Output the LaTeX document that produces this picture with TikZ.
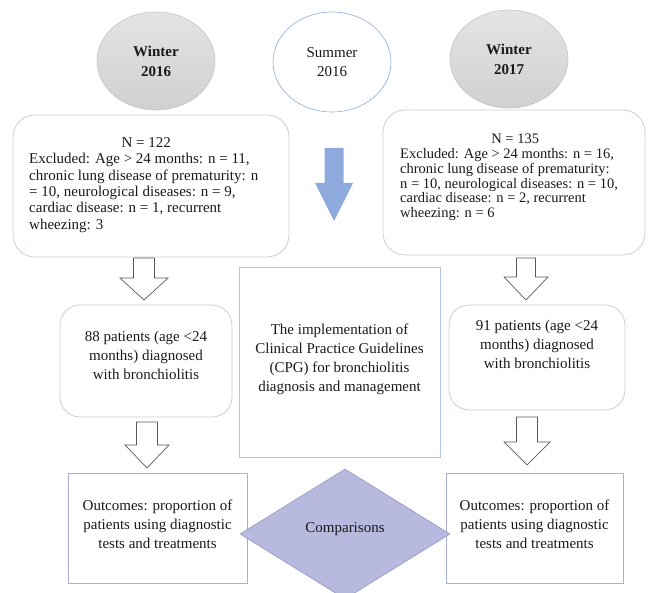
\documentclass[tikz,border=0pt]{standalone}
\usepackage{fontspec}
\setmainfont{Liberation Serif}
\usetikzlibrary{shapes.geometric,calc}
\definecolor{rbord}{HTML}{D6CBC5}
\definecolor{bbord}{HTML}{B4C6E7}
\definecolor{obord}{HTML}{A9AEDB}
\definecolor{grayfillA}{HTML}{E4E4E4}
\definecolor{grayfillB}{HTML}{D0D0D0}
\definecolor{grayline}{HTML}{C4C4C4}
\definecolor{sumline}{HTML}{8EAADB}
\definecolor{bluearrow}{HTML}{8FAADC}
\definecolor{diafill}{HTML}{B8B9DE}
\definecolor{diabord}{HTML}{9A9BC8}
\definecolor{arrline}{HTML}{5A5A5A}
\definecolor{txt}{HTML}{1A1A1A}
\newcommand\blkarrow[7][]{%
  \draw[#1] (#2-#6,#3) -- (#2+#6,#3) -- (#2+#6,#4) -- (#2+#7,#4) -- (#2,#5)
    -- (#2-#7,#4) -- (#2-#6,#4) -- cycle;}
\begin{document}
\begin{tikzpicture}[x=1pt,y=-1pt,
  every node/.style={text=txt},
  season/.style={ellipse, draw=grayline, line width=0.6pt, top color=grayfillA, bottom color=grayfillB,
    minimum width=118pt, minimum height=98pt, inner sep=0pt, align=center,
    font=\fontsize{15}{20}\selectfont\bfseries},
  summer/.style={ellipse, draw=sumline, line width=0.6pt, fill=white,
    minimum width=118pt, minimum height=100pt, inner sep=0pt, align=center,
    font=\fontsize{15}{19}\selectfont},
  roundbox/.style={draw=rbord, line width=0.8pt, rounded corners=22pt, fill=white, inner sep=0pt},
  bluebox/.style={draw=bbord, line width=0.8pt, fill=white, inner sep=0pt},
  outbox/.style={draw=obord, line width=0.8pt, fill=white, inner sep=0pt},
  toptext/.style={align=left, inner sep=0pt, anchor=north west},
  lowtext/.style={align=center, inner sep=0pt, font=\fontsize{15}{19}\selectfont},
  hollow/.style={draw=arrline, line width=0.7pt, fill=white, line join=miter},
]
\useasboundingbox (0,0) rectangle (648,593);

% season ellipses
\node[season] (w16) at (156,61) {Winter\\2016};
\node[summer] (s16) at (332,62) {Summer\\2016};
\node[season] (w17) at (509,59) {Winter\\2017};

% top rounded boxes
\node[roundbox, minimum width=276pt, minimum height=142pt] (lbox) at (151,186) {};
\node[roundbox, minimum width=262pt, minimum height=145pt] (rbox) at (514,182.5) {};
\node[toptext, font=\fontsize{15}{16.3}\selectfont] (ltext) at (29,137.5)
 {\makebox[234pt]{N = 122}\\
  Excluded: Age > 24 months: n = 11,\\
  chronic lung disease of prematurity: n\\
  = 10, neurological diseases: n = 9,\\
  cardiac disease: n = 1, recurrent\\
  wheezing: 3};
\node[toptext, font=\fontsize{14.5}{14.8}\selectfont] (rtext) at (400,134)
 {\makebox[230pt]{N = 135}\\
  Excluded: Age > 24 months: n = 16,\\
  chronic lung disease of prematurity:\\
  n = 10, neurological diseases: n = 10,\\
  cardiac disease: n = 2, recurrent\\
  wheezing: n = 6};

% blue arrow
\blkarrow[fill=bluearrow, draw=none]{334}{148}{183}{221}{9.5}{19}

% middle boxes
\node[roundbox, rounded corners=20pt, minimum width=172pt, minimum height=112pt] (p88) at (146,361) {};
\node[lowtext] (t88) at (146,355) {88 patients (age <24\\months) diagnosed\\with bronchiolitis};
\node[bluebox, minimum width=201pt, minimum height=190pt] (cpg) at (339.5,362) {};
\node[lowtext] (tcpg) at (339.5,359) {The implementation of\\Clinical Practice Guidelines\\(CPG) for bronchiolitis\\diagnosis and management};
\node[roundbox, rounded corners=20pt, minimum width=176pt, minimum height=105pt] (p91) at (537,357.5) {};
\node[lowtext] (t91) at (537,344) {91 patients (age <24\\months) diagnosed\\with bronchiolitis};

% hollow arrows
\blkarrow[hollow]{144}{258}{278}{300}{10.5}{24}
\blkarrow[hollow]{526}{258}{277}{300}{9.5}{22}
\blkarrow[hollow]{147}{422}{445}{468}{10.5}{22}
\blkarrow[hollow]{527}{417}{442}{465}{10.5}{23}

% outcome boxes
\node[outbox, minimum width=179pt, minimum height=110pt] (o1) at (157.5,528) {};
\node[lowtext] (to1) at (157.5,524) {Outcomes: proportion of\\patients using diagnostic\\tests and treatments};
\node[outbox, minimum width=177pt, minimum height=110pt] (o2) at (534.5,528) {};
\node[lowtext] (to2) at (534.5,524) {Outcomes: proportion of\\patients using diagnostic\\tests and treatments};

% diamond
\node[diamond, draw=diabord, line width=0.7pt, fill=diafill, minimum width=210pt, minimum height=130pt,
  inner sep=0pt, font=\fontsize{15}{19}\selectfont] (cmp) at (345,534) {};
\node[lowtext] (tcmp) at (345,529) {Comparisons};
\end{tikzpicture}
\end{document}
